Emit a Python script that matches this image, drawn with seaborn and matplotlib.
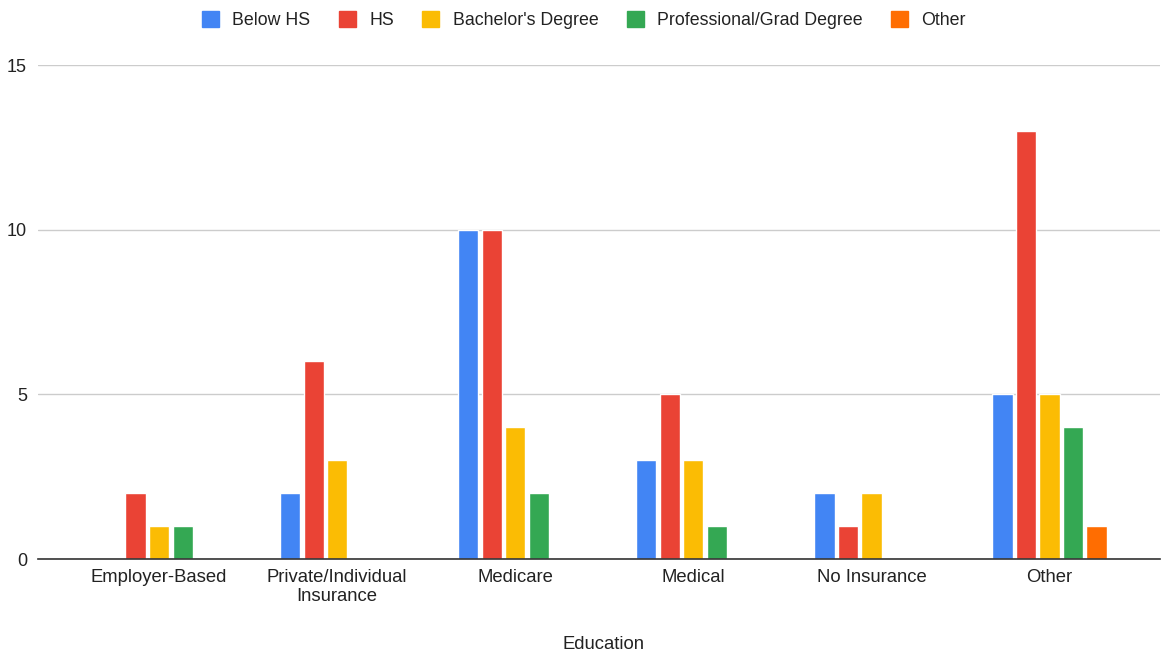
import matplotlib
matplotlib.use("Agg")
import matplotlib.pyplot as plt
import seaborn as sns
import pandas as pd
from matplotlib.patches import Patch

categories = ["Employer-Based", "Private/Individual\nInsurance", "Medicare",
              "Medical", "No Insurance", "Other"]
series = ["Below HS", "HS", "Bachelor's Degree", "Professional/Grad Degree", "Other"]
below_hs = [0, 2, 10, 3, 2, 5]
hs = [2, 6, 10, 5, 1, 13]
bachelors = [1, 3, 4, 3, 2, 5]
prof_grad = [1, 0, 2, 1, 0, 4]
other = [0, 0, 0, 0, 0, 1]
y_ticks = [0, 5, 10, 15]

colors = ["#4285F4", "#EA4335", "#FBBC04", "#34A853", "#FF6D01"]

rows = []
for name, vals in zip(series, [below_hs, hs, bachelors, prof_grad, other]):
    for cat, v in zip(categories, vals):
        rows.append({"category": cat, "education": name, "count": v})
df = pd.DataFrame(rows)

sns.set_theme(style="white")
plt.rcParams["font.family"] = ["Liberation Sans", "DejaVu Sans"]

fig = plt.figure(figsize=(11.66, 6.52), dpi=100)
ax = fig.add_axes([38 / 1166, 1 - 559 / 652, (1160 - 38) / 1166, (559 - 65) / 652])

sns.barplot(data=df, x="category", y="count", hue="education", order=categories,
            hue_order=series, palette=colors, width=0.66, gap=0.14,
            saturation=1, legend=False, ax=ax)

ax.set_xlim(-0.68, 5.62)
ax.set_ylim(0, 15)
ax.set_yticks(y_ticks)
ax.set_yticklabels([str(t) for t in y_ticks], fontsize=13, color="#222222")
ax.grid(axis="y", color="#cccccc", linewidth=1)
ax.set_axisbelow(True)
for s in ["top", "right", "left"]:
    ax.spines[s].set_visible(False)
ax.spines["bottom"].set_color("#333333")
ax.spines["bottom"].set_linewidth(1.2)
ax.tick_params(axis="y", length=0, pad=8)
ax.tick_params(axis="x", length=0, pad=7)
for lbl in ax.get_xticklabels():
    lbl.set_fontsize(13.3)
    lbl.set_color("#222222")
    lbl.set_linespacing(1.15)
ax.set_ylabel("")
ax.set_xlabel("Education", fontsize=13.3, color="#222222", labelpad=22)
ax.xaxis.set_label_coords((603 - 38) / (1160 - 38), -0.155)

handles = [Patch(facecolor=c, edgecolor=c, label=n) for n, c in zip(series, colors)]
fig.legend(handles=handles, loc="center", bbox_to_anchor=(584 / 1166, 1 - 20 / 652),
           ncol=5, frameon=False, fontsize=12.8, handlelength=0.95, handleheight=1.0,
           handletextpad=0.75, columnspacing=1.6, labelcolor="#222222")

fig.savefig("out.png", dpi=100, facecolor="white")
